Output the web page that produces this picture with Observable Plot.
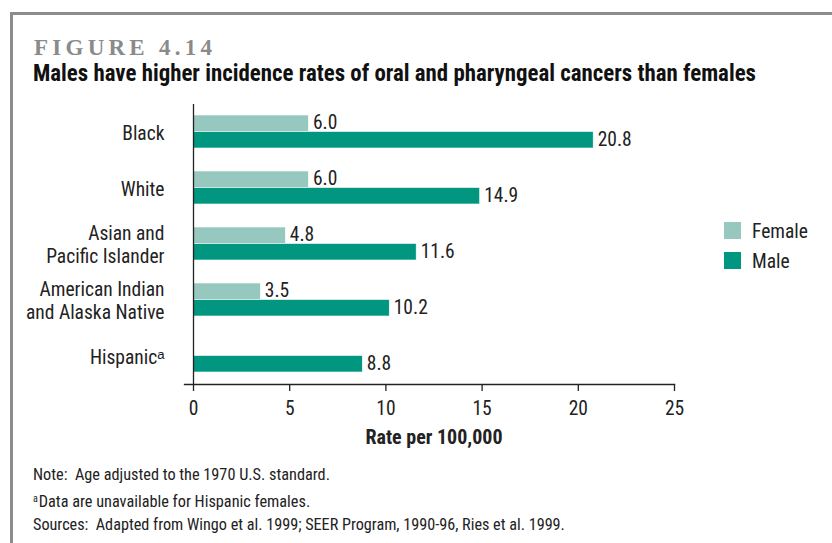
<!DOCTYPE html>
<html>
<head>
<meta charset="utf-8">
<script src="https://cdn.jsdelivr.net/npm/d3@7"></script>
<script src="https://cdn.jsdelivr.net/npm/@observablehq/plot@0.6"></script>
<style>
  html, body { margin: 0; padding: 0; background: #fff; }
  #wrap { position: relative; width: 832px; height: 543px; overflow: hidden; font-family: Roboto, sans-serif; font-stretch: condensed; color: #1a1a1a; }
  #frameTop { position: absolute; left: 10px; top: 12px; width: 830px; height: 3px; background: #8c8c8c; }
  #frameLeft { position: absolute; left: 10px; top: 12px; width: 3px; height: 540px; background: #8c8c8c; }
  #fig { position: absolute; left: 34px; top: 36px; line-height: 1; font-family: "Liberation Serif", serif; font-stretch: normal; font-weight: bold; font-size: 23px; color: #8a8a8a; white-space: nowrap; }
  #title { position: absolute; left: 33px; top: 62px; line-height: 1; font-weight: bold; font-size: 23px; color: #111; white-space: nowrap; transform-origin: 0 0; }
  #chart { position: absolute; left: 0; top: 0; }
  .legend { position: absolute; left: 724px; font-size: 19.5px; color: #222; }
  .legend span.sw { position: absolute; left: 0; width: 17px; height: 17px; }
  .legend span.lb { position: absolute; left: 28px; white-space: nowrap; }
  #notes { position: absolute; left: 33px; top: 463px; font-size: 16px; line-height: 23.5px; color: #222; white-space: nowrap; }
  #notes div { display: inline-block; }
  sup { font-size: 10px; vertical-align: 5px; margin-right: 1px; }
</style>
</head>
<body>
<div id="wrap">
  <div id="frameTop"></div>
  <div id="frameLeft"></div>
  <div id="chart"></div>
  <div id="fig">FIGURE 4.14</div>
  <div id="title">Males have higher incidence rates of oral and pharyngeal cancers than females</div>
  <div id="legend"></div>
  <div id="notes">
    <div id="n1">Note:&nbsp; Age adjusted to the 1970 U.S. standard.</div><br>
    <div id="n2"><sup>a</sup>Data are unavailable for Hispanic females.</div><br>
    <div id="n3">Sources:&nbsp; Adapted from Wingo et al. 1999; SEER Program, 1990-96, Ries et al. 1999.</div>
  </div>
</div>
<script>
const categories = ["Black", "White", "Asian and\nPacific Islander", "American Indian\nand Alaska Native", "Hispanicᵃ"];
const femaleRates = [6.0, 6.0, 4.8, 3.5, null];
const maleRates = [20.8, 14.9, 11.6, 10.2, 8.8];
const seriesNames = ["Female", "Male"];
const seriesColors = ["#96c8bf", "#009680"];
const xTicks = [0, 5, 10, 15, 20, 25];
const xLabel = "Rate per 100,000";

const female = categories.map((c, i) => ({cat: c, value: femaleRates[i]})).filter(d => d.value != null);
const male = categories.map((c, i) => ({cat: c, value: maleRates[i]}));

const chart = Plot.plot({
  width: 832,
  height: 543,
  marginLeft: 193,
  marginRight: 158,
  marginTop: 104,
  marginBottom: 159,
  style: {fontFamily: "Roboto, sans-serif", fontStretch: "condensed", fontSize: "19.5px", color: "#222", background: "transparent", overflow: "visible"},
  x: {domain: [0, 25], ticks: xTicks},
  y: {domain: categories, paddingInner: 0.41, paddingOuter: 0.205},
  marks: [
    Plot.barX(female, {x: "value", y: "cat", fill: seriesColors[0], insetBottom: 16.5, stroke: "#fff", strokeWidth: 0.6}),
    Plot.barX(male, {x: "value", y: "cat", fill: seriesColors[1], insetTop: 16.5, stroke: "#fff", strokeWidth: 0.6}),
    Plot.text(female, {x: "value", y: "cat", text: d => d.value.toFixed(1), dy: -9, dx: 4, textAnchor: "start", fontSize: 19.5, fill: "#222"}),
    Plot.text(male, {x: "value", y: "cat", text: d => d.value.toFixed(1), dy: 8, dx: 4, textAnchor: "start", fontSize: 19.5, fill: "#222"}),
    Plot.ruleX([0], {stroke: "#222", strokeWidth: 1.3}),
    Plot.frame({anchor: "bottom", insetLeft: -9, stroke: "#222", strokeWidth: 1.3}),
    Plot.axisX({ticks: xTicks, tickSize: 7, tickPadding: 10, fontSize: 19.5, stroke: "#222", strokeWidth: 1.3,
      label: xLabel, labelAnchor: "center", labelArrow: "none", labelOffset: 59}),
    Plot.axisY({tickSize: 0, tickPadding: 29, fontSize: 19.5, lineHeight: 1.2, label: null})
  ]
});
document.getElementById("chart").appendChild(chart);
chart.querySelectorAll("g[aria-label='x-axis label'] text").forEach(t => { t.setAttribute("font-weight", "bold"); t.setAttribute("font-size", 20); });

const legend = document.getElementById("legend");
seriesNames.forEach((name, i) => {
  const row = document.createElement("div");
  row.className = "legend";
  row.style.top = (222 + i * 30) + "px";
  row.innerHTML = `<span class="sw" style="background:${seriesColors[i]}"></span><span class="lb" style="top:-2px">${name}</span>`;
  legend.appendChild(row);
});

// fit text widths to the reference widths
function fit(id, target) {
  const el = document.getElementById(id);
  const w = el.getBoundingClientRect().width;
  const fs = parseFloat(getComputedStyle(el).fontSize);
  el.style.fontSize = (fs * target / w).toFixed(2) + "px";
}
fit("n1", 297);
fit("n3", 532);
document.getElementById("n2").style.fontSize = document.getElementById("n1").style.fontSize;

const title = document.getElementById("title");
title.style.transform = `scaleX(${(723 / title.getBoundingClientRect().width).toFixed(4)})`;

const fig = document.getElementById("fig");
const w0 = fig.getBoundingClientRect().width;
fig.style.letterSpacing = ((178 - w0) / 10).toFixed(2) + "px";
</script>
</body>
</html>
